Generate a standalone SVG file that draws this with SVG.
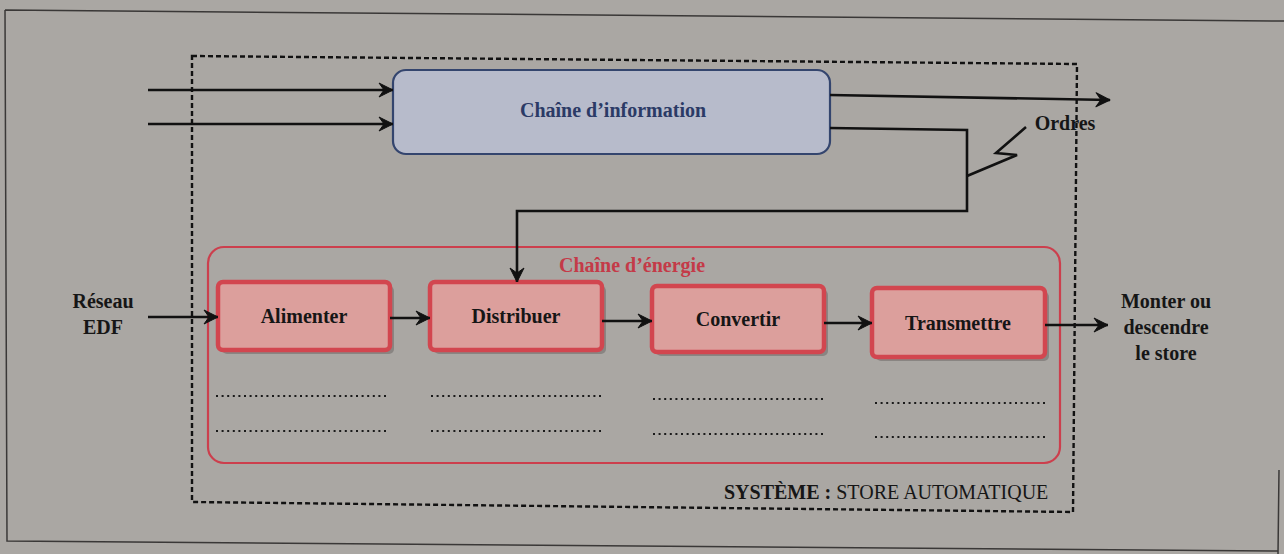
<svg xmlns="http://www.w3.org/2000/svg" width="1284" height="554" viewBox="0 0 1284 554">
<defs>
<marker id="arr" markerUnits="userSpaceOnUse" markerWidth="16" markerHeight="16" viewBox="0 0 16 16" refX="15" refY="8" orient="auto">
<path d="M1,1 L15,8 L1,15 L6,8 Z" fill="#111" stroke="#111" stroke-width="1" stroke-linejoin="round"/>
</marker>
</defs>
<style>
.t{font-family:"Liberation Serif","Times New Roman",serif;font-weight:bold;font-size:20px;fill:#161616;text-anchor:middle}
.wire{fill:none;stroke:#111;stroke-width:2.6}
.fn{fill:#dc9f9c;stroke:#d2464f;stroke-width:4.5}
.sh{fill:#6e6a67;opacity:.55}
.dots{stroke:#1a1a1a;stroke-width:2.2;stroke-dasharray:2 3.6}
</style>
<rect x="0" y="0" width="1284" height="554" fill="#aaa7a3"/>
<path d="M5,10 L1284,21 M5,10 L7,541 L1278,551 M1278,554 L1279,470" fill="none" stroke="#3a3837" stroke-width="1.5"/>
<g id="systeme">
<path d="M192,56 L1077,64 L1073,512 L192,502 Z" fill="none" stroke="#111" stroke-width="2.4" stroke-dasharray="5 3"/>
<text x="724" y="499" font-family="'Liberation Serif','Times New Roman',serif" font-size="20" fill="#161616"><tspan font-weight="bold">SYSTÈME :</tspan> STORE AUTOMATIQUE</text>
</g>
<g id="chaine-information">
<rect x="393" y="70" width="437" height="84" rx="13" fill="#b7bbcb" stroke="#34456e" stroke-width="2.2"/>
<text class="t" x="613" y="117" style="fill:#2b3a66">Chaîne d’information</text>
</g>
<g id="chaine-energie">
<rect x="208" y="247" width="852" height="216" rx="16" fill="none" stroke="#cc3f4d" stroke-width="2.2"/>
<text class="t" x="632" y="272" style="fill:#c43a48">Chaîne d’énergie</text>
</g>
<g id="alimenter">
<rect class="sh" x="222" y="286" width="172" height="68" rx="5"/>
<rect class="fn" x="218" y="282" width="172" height="68" rx="5"/>
<text class="t" x="304" y="323">Alimenter</text>
</g>
<g id="distribuer">
<rect class="sh" x="434" y="286" width="172" height="68" rx="5"/>
<rect class="fn" x="430" y="282" width="172" height="68" rx="5"/>
<text class="t" x="516" y="323">Distribuer</text>
</g>
<g id="convertir">
<rect class="sh" x="656" y="290" width="172" height="66" rx="5"/>
<rect class="fn" x="652" y="286" width="172" height="66" rx="5"/>
<text class="t" x="738" y="326">Convertir</text>
</g>
<g id="transmettre">
<rect class="sh" x="876" y="292" width="173" height="69" rx="5"/>
<rect class="fn" x="872" y="288" width="173" height="69" rx="5"/>
<text class="t" x="958" y="330">Transmettre</text>
</g>
<g id="dotted-lines">
<line class="dots" x1="216" y1="396" x2="387" y2="396"/>
<line class="dots" x1="216" y1="431" x2="387" y2="431"/>
<line class="dots" x1="431" y1="396" x2="601" y2="396"/>
<line class="dots" x1="431" y1="431" x2="601" y2="431"/>
<line class="dots" x1="653" y1="399" x2="824" y2="399"/>
<line class="dots" x1="653" y1="434" x2="824" y2="434"/>
<line class="dots" x1="875" y1="403" x2="1046" y2="403"/>
<line class="dots" x1="875" y1="437" x2="1046" y2="437"/>
</g>
<g id="reseau-edf">
<text class="t" x="103" y="308">Réseau</text>
<text class="t" x="103" y="334">EDF</text>
</g>
<g id="sortie">
<text class="t" x="1166" y="308">Monter ou</text>
<text class="t" x="1166" y="334">descendre</text>
<text class="t" x="1166" y="360">le store</text>
</g>
<g id="ordres">
<text class="t" x="1065" y="130">Ordres</text>
</g>
<g id="connectors">
<path class="wire" d="M148,90 H393" marker-end="url(#arr)"/>
<path class="wire" d="M148,124 H393" marker-end="url(#arr)"/>
<path class="wire" d="M830,95 L1110,100" marker-end="url(#arr)"/>
<path class="wire" d="M830,128 L967,130 V211 H517 V282" marker-end="url(#arr)"/>
<path class="wire" d="M967,176 L1017,155 L996,153 L1026,127" stroke-width="2"/>
<path class="wire" d="M148,317 H218" marker-end="url(#arr)"/>
<path class="wire" d="M390,318 H430" marker-end="url(#arr)"/>
<path class="wire" d="M602,321 H652" marker-end="url(#arr)"/>
<path class="wire" d="M824,323 H872" marker-end="url(#arr)"/>
<path class="wire" d="M1045,325 H1108" marker-end="url(#arr)"/>
</g>
</svg>
